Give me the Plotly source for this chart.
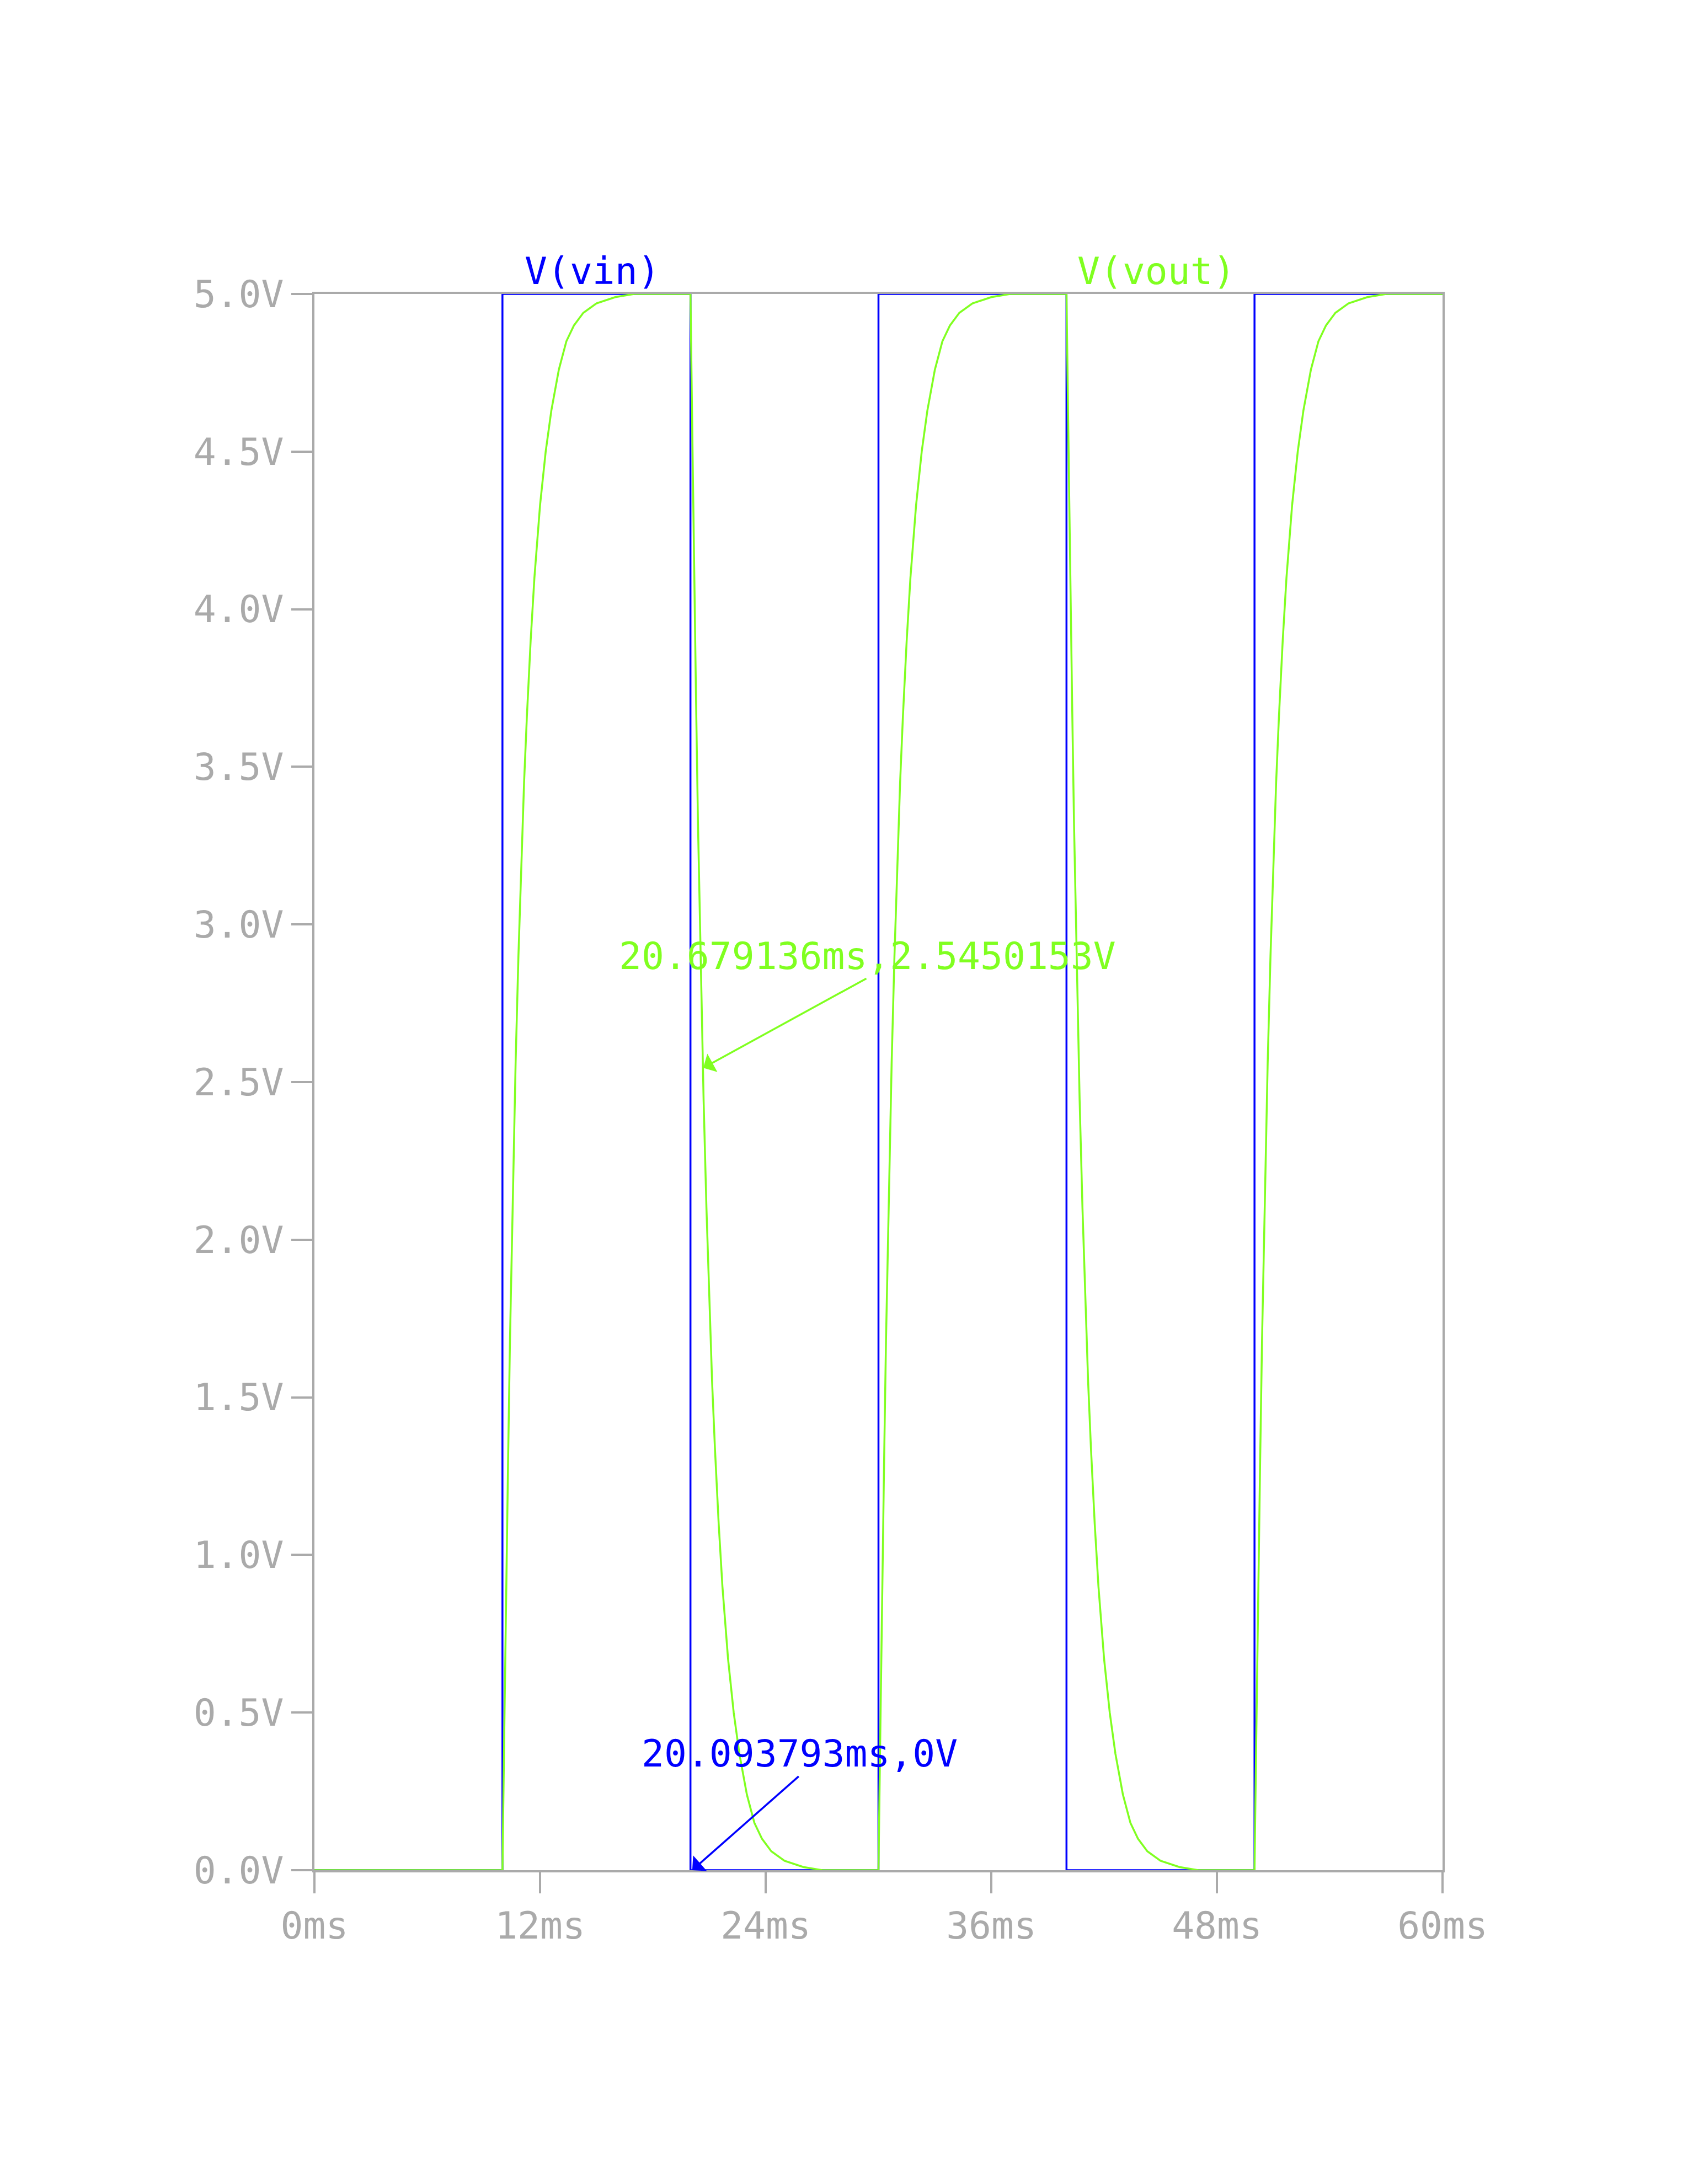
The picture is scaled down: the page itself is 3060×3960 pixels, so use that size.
import plotly.graph_objects as go

# square wave input (ms, V)
vin_t = [0, 10, 10, 20, 20, 30, 30, 40, 40, 50, 50, 60]
vin_v = [0, 0, 5, 5, 0, 0, 5, 5, 0, 0, 5, 5]

# output: offsets after each edge (ms) and rising-edge values (V)
edge_t = [10, 20, 30, 40, 50]
edge_rise = [True, False, True, False, True]
step_dt = [0, 0.1, 0.2, 0.3, 0.4, 0.5, 0.6, 0.7, 0.85, 1.0, 1.15, 1.3, 1.5, 1.7,
           2.0, 2.3, 2.6, 3.0, 3.4, 3.8, 4.3, 5.0, 6.0, 7.0, 8.0, 10.0]
step_v = [0, 0.45, 0.9, 1.3, 1.68, 2.0, 2.3, 2.56, 2.9, 3.2, 3.45, 3.66, 3.9, 4.1,
          4.33, 4.5, 4.63, 4.76, 4.85, 4.9, 4.94, 4.97, 4.99, 5.0, 5.0, 5.0]

vout_t = [0]
vout_v = [0]
for t0, rise in zip(edge_t, edge_rise):
    for dt, v in zip(step_dt, step_v):
        vout_t.append(t0 + dt)
        vout_v.append(v if rise else 5 - v)

BLUE = "#0000ff"
GREEN = "#80ff20"
GREY = "#aaaaaa"
FONT = "DejaVu Sans Mono"

fig = go.Figure()
fig.add_trace(go.Scatter(x=vin_t, y=vin_v, mode="lines",
                         line=dict(color=BLUE, width=3.5)))
fig.add_trace(go.Scatter(x=vout_t, y=vout_v, mode="lines",
                         line=dict(color=GREEN, width=3.5)))

ann = [
    dict(x=14.8, y=5.0, text="V(vin)", color=BLUE),
    dict(x=44.8, y=5.0, text="V(vout)", color=GREEN),
]
for a in ann:
    fig.add_annotation(x=a["x"], y=a["y"], text=a["text"], showarrow=False,
                       yshift=42, font=dict(family=FONT, size=68, color=a["color"]))

fig.add_annotation(x=29.4, y=2.90, text="20.679136ms,2.5450153V", showarrow=False,
                   font=dict(family=FONT, size=68, color=GREEN))
fig.add_annotation(x=20.679, y=2.545, ax=29.4, ay=2.83, axref="x", ayref="y",
                   text="", showarrow=True, arrowhead=1, arrowsize=1.8,
                   arrowwidth=3.5, arrowcolor=GREEN)
fig.add_annotation(x=25.8, y=0.37, text="20.093793ms,0V", showarrow=False,
                   font=dict(family=FONT, size=68, color=BLUE))
fig.add_annotation(x=20.094, y=0.0, ax=25.8, ay=0.30, axref="x", ayref="y",
                   text="", showarrow=True, arrowhead=1, arrowsize=1.8,
                   arrowwidth=3.5, arrowcolor=BLUE)

axis_common = dict(showgrid=False, zeroline=False, showline=True, linecolor=GREY,
                   linewidth=4, mirror=True, ticks="outside", ticklen=38,
                   tickwidth=4, tickcolor=GREY,
                   tickfont=dict(family=FONT, size=68, color=GREY))

fig.update_layout(
    width=3060, height=3960, showlegend=False,
    paper_bgcolor="white", plot_bgcolor="white",
    margin=dict(l=562, r=473 - 20, t=525, b=605 - 28),
    xaxis=dict(range=[0, 60], tickvals=[0, 12, 24, 36, 48, 60],
               ticktext=["0ms", "12ms", "24ms", "36ms", "48ms", "60ms"], **axis_common),
    yaxis=dict(range=[0, 5], tickvals=[0, 0.5, 1, 1.5, 2, 2.5, 3, 3.5, 4, 4.5, 5],
               ticktext=["0.0V", "0.5V", "1.0V", "1.5V", "2.0V", "2.5V", "3.0V",
                         "3.5V", "4.0V", "4.5V", "5.0V"], **axis_common),
)

fig.write_html("out.html")
